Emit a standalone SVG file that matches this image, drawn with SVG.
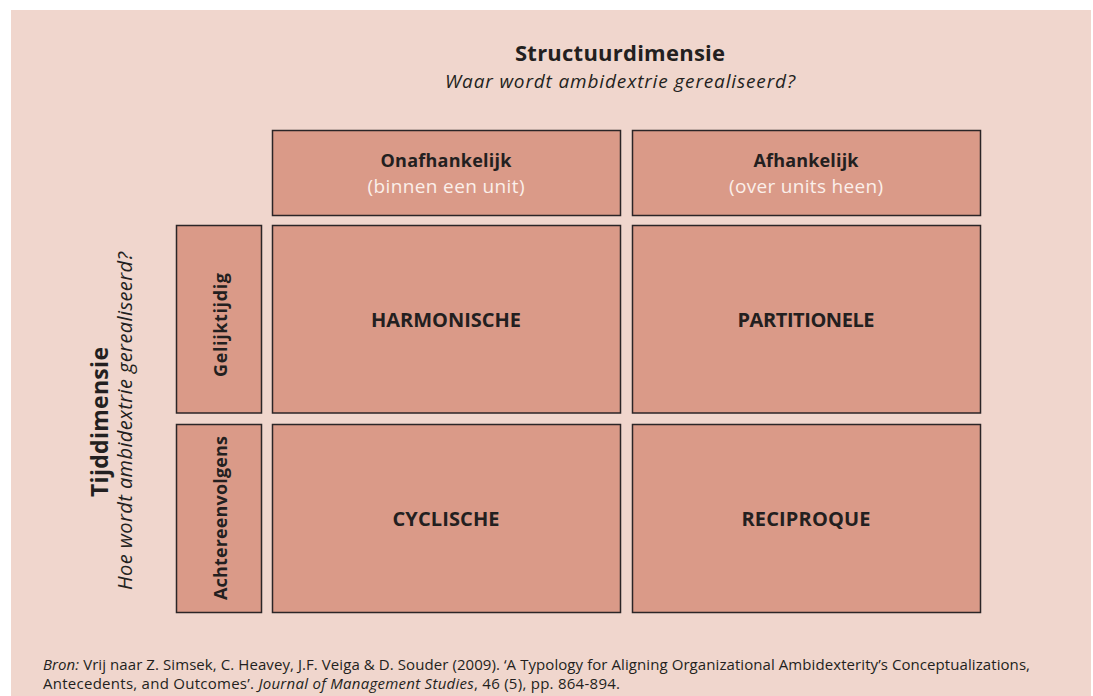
<svg xmlns="http://www.w3.org/2000/svg" width="1093" height="696" viewBox="0 0 1093 696">
<style>
.box{fill:#da9a88;stroke:#2b2527;stroke-width:1.5}
.t{font-family:"Open Sans","Noto Sans","Liberation Sans",sans-serif;fill:#231f20}
.b{font-weight:bold}
.i{font-style:italic}
.w{fill:#fbefea}
.m{text-anchor:middle}
</style>
<rect x="0" y="0" width="1093" height="696" fill="#ffffff"/>
<rect x="11" y="10" width="1080" height="686" fill="#f0d6cd"/>
<g id="title">
<text class="t b m" x="620" y="61" font-size="22" textLength="210">Structuurdimensie</text>
<text class="t i m" x="620" y="88" font-size="19" textLength="350">Waar wordt ambidextrie gerealiseerd?</text>
</g>
<g id="tijd">
<text class="t b m" transform="translate(108,422) rotate(-90)" font-size="23" textLength="150">Tijddimensie</text>
<text class="t i m" transform="translate(132,421) rotate(-90)" font-size="20" textLength="338">Hoe wordt ambidextrie gerealiseerd?</text>
</g>
<g id="onafhankelijk">
<rect class="box" x="272.5" y="130.5" width="348" height="85"/>
<text class="t b m" x="446" y="167" font-size="18" textLength="131">Onafhankelijk</text>
<text class="t w m" x="446" y="193" font-size="19" textLength="157">(binnen een unit)</text>
</g>
<g id="afhankelijk">
<rect class="box" x="632.5" y="130.5" width="348" height="85"/>
<text class="t b m" x="806" y="167" font-size="18" textLength="105">Afhankelijk</text>
<text class="t w m" x="806" y="193" font-size="19" textLength="154">(over units heen)</text>
</g>
<g id="gelijktijdig">
<rect class="box" x="176.5" y="225.5" width="85" height="187.5"/>
<text class="t b m" transform="translate(227,325) rotate(-90)" font-size="18" textLength="104">Gelijktijdig</text>
</g>
<g id="achtereenvolgens">
<rect class="box" x="176.5" y="424.5" width="85" height="188"/>
<text class="t b m" transform="translate(227,518) rotate(-90)" font-size="18" textLength="164">Achtereenvolgens</text>
</g>
<g id="harmonische">
<rect class="box" x="272.5" y="225.5" width="348" height="187.5"/>
<text class="t b m" x="446" y="327" font-size="20" textLength="150">HARMONISCHE</text>
</g>
<g id="partitionele">
<rect class="box" x="632.5" y="225.5" width="348" height="187.5"/>
<text class="t b m" x="806" y="327" font-size="20" textLength="137">PARTITIONELE</text>
</g>
<g id="cyclische">
<rect class="box" x="272.5" y="424.5" width="348" height="188"/>
<text class="t b m" x="446" y="526" font-size="20" textLength="107">CYCLISCHE</text>
</g>
<g id="reciproque">
<rect class="box" x="632.5" y="424.5" width="348" height="188"/>
<text class="t b m" x="806" y="526" font-size="20" textLength="129">RECIPROQUE</text>
</g>
<g id="connectors"></g>
<g id="bron">
<text class="t" x="43" y="670" font-size="15" fill="#2b2527" textLength="987"><tspan font-style="italic">Bron:</tspan> Vrij naar Z. Simsek, C. Heavey, J.F. Veiga &amp; D. Souder (2009). ‘A Typology for Aligning Organizational Ambidexterity’s Conceptualizations,</text>
<text class="t" x="43" y="689" font-size="15" fill="#2b2527" textLength="577">Antecedents, and Outcomes’. <tspan font-style="italic">Journal of Management Studies</tspan>, 46 (5), pp. 864-894.</text>
</g>
</svg>
